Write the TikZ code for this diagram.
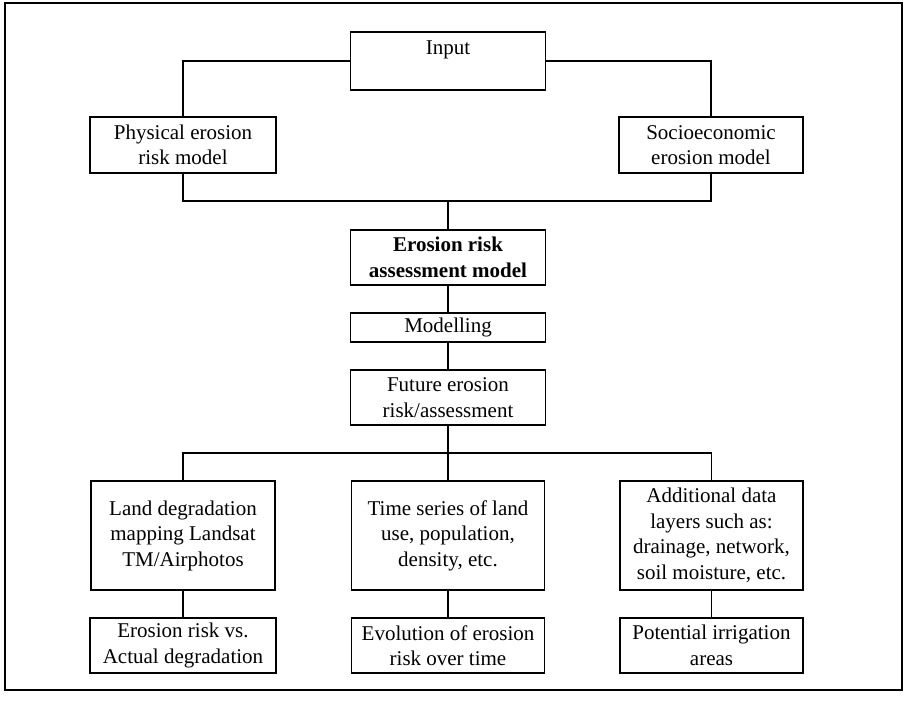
\documentclass[tikz,border=0pt]{standalone}
\usepackage{fontspec}
\setmainfont{Liberation Serif}
\begin{document}
\begin{tikzpicture}[x=1pt,y=-1pt,
  box/.style={draw, line width=1.6pt, rectangle, inner sep=0pt, align=center,
    font=\fontsize{21}{25.5}\selectfont},
  link/.style={line width=1.2pt}]
\useasboundingbox (0,0) rectangle (907,701);
\draw[line width=1.2pt] (5,3) rectangle (902,690);
% top level
\node[box, minimum width=195pt, text height=23pt, text depth=35pt] (input) at (448,61) {Input};
\node[box, minimum width=186pt, minimum height=56pt] (phys) at (183,145) {Physical erosion\\risk model};
\node[box, minimum width=184pt, minimum height=56pt] (socio) at (711,145) {Socioeconomic\\erosion model};
% middle column
\node[box, minimum width=195pt, minimum height=55pt, font=\fontsize{21}{25.5}\selectfont\bfseries] (era) at (448,257.5) {Erosion risk\\assessment model};
\node[box, minimum width=195pt, minimum height=29pt] (mod) at (448,327.5) {Modelling};
\node[box, minimum width=195pt, minimum height=55pt] (fut) at (448,397.5) {Future erosion\\risk/assessment};
% row 1
\node[box, minimum width=184pt, minimum height=109pt] (ld) at (183,535.5) {Land degradation\\mapping Landsat\\TM/Airphotos};
\node[box, minimum width=193pt, minimum height=109pt] (ts) at (448,535.5) {Time series of land\\use, population,\\density, etc.};
\node[box, minimum width=183pt, minimum height=109pt] (ad) at (711.5,535.5) {Additional data\\layers such as:\\drainage, network,\\soil moisture, etc.};
% row 2
\node[box, minimum width=186pt, minimum height=55pt] (er) at (183,645.5) {Erosion risk vs.\\Actual degradation};
\node[box, minimum width=193pt, minimum height=55pt] (ev) at (448,645.5) {Evolution of erosion\\risk over time};
\node[box, minimum width=183pt, minimum height=55pt] (pi) at (711.5,645.5) {Potential irrigation\\areas};
% connectors
\coordinate (j1) at (448,201);
\coordinate (j2) at (448,453);
\draw[link] (input.west) -| (phys.north);
\draw[link] (input.east) -| (socio.north);
\draw[link] (phys.south) |- (j1) -| (socio.south);
\draw[link] (j1) -- (era.north);
\draw[link] (era.south) -- (mod.north);
\draw[link] (mod.south) -- (fut.north);
\draw[link] (fut.south) -- (ts.north);
\draw[link] (ld.north) |- (j2) -| (ad.north);
\draw[link] (ld.south) -- (er.north);
\draw[link] (ts.south) -- (ev.north);
\draw[link] (ad.south) -- (pi.north);
\end{tikzpicture}
\end{document}
